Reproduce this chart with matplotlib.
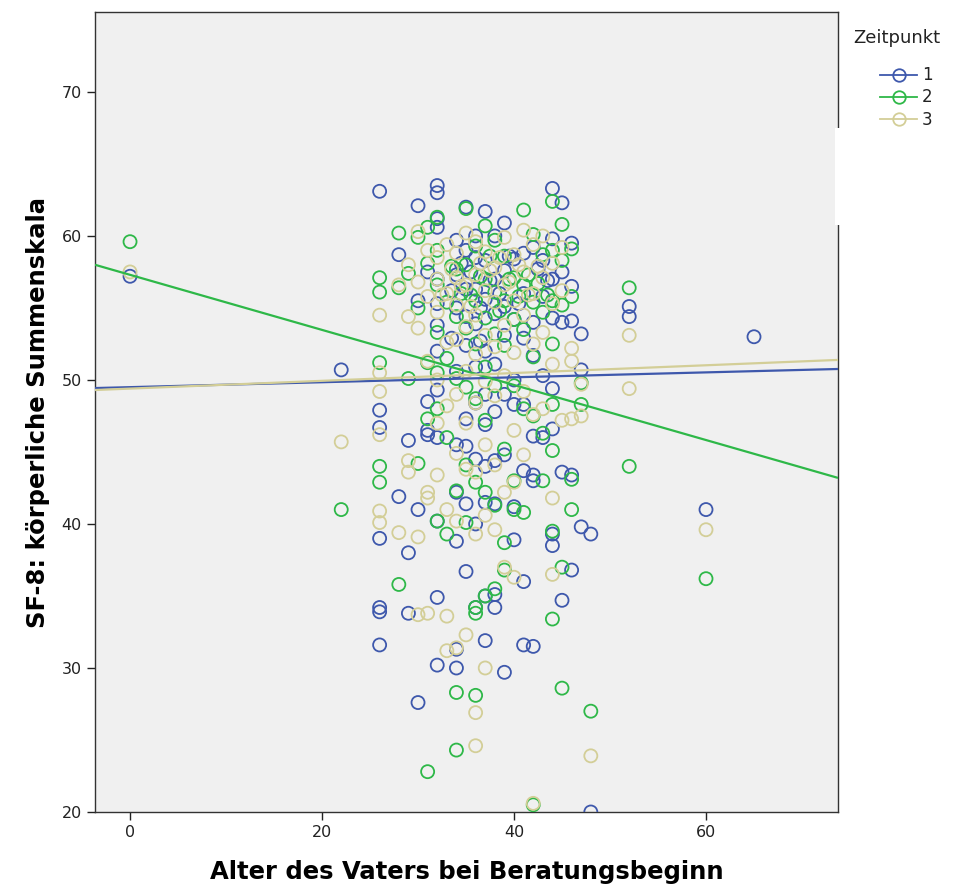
import matplotlib
matplotlib.use("Agg")
import matplotlib.pyplot as plt
from matplotlib.lines import Line2D
from matplotlib.patches import Rectangle
import numpy as np

# ---- data ----
groups = ["1", "2", "3"]
colors = ["#3E58AC", "#2EB848", "#D3CE97"]

age_1 = [0, 22, 26, 26, 26, 26, 26, 26, 26, 28, 28, 29, 29, 29, 30, 30, 30, 30,
         31, 31, 31, 31, 32, 32, 32, 32, 32, 32, 32, 32, 32, 32, 32, 32, 32,
         34, 34, 34, 34, 34, 34, 34, 34, 34, 35, 35, 35, 35, 35, 35, 35, 35, 35,
         36, 36, 36, 36, 36, 36, 36, 36, 36, 37, 37, 37, 37, 37, 37, 37, 37, 37, 37,
         38, 38, 38, 38, 38, 38, 38, 38, 38, 39, 39, 39, 39, 39, 39, 39,
         40, 40, 40, 40, 40, 40, 41, 41, 41, 41, 41, 41, 41,
         42, 42, 42, 42, 42, 42, 42, 43, 43, 43, 43,
         44, 44, 44, 44, 44, 44, 44, 44, 45, 45, 45, 45, 45,
         46, 46, 46, 46, 46, 47, 47, 47, 48, 48, 52, 52, 60, 65,
         33.5, 33.5, 34.5, 35.5, 36.5, 36.5, 37.5, 38.5, 39.5, 40.5, 42.5, 43.5]
sf8_1 = [57.2, 50.7, 63.1, 47.9, 46.7, 39.0, 34.2, 33.9, 31.6, 58.7, 41.9, 45.8, 38.0, 33.8,
         62.1, 55.5, 41.0, 27.6, 57.5, 48.5, 46.5, 46.2,
         63.5, 63.0, 61.2, 60.6, 57.0, 55.3, 53.8, 52.0, 49.3, 46.0, 40.2, 34.9, 30.2,
         59.7, 57.3, 55.0, 50.6, 45.5, 42.2, 38.8, 31.3, 30.0,
         62.0, 59.0, 56.3, 54.4, 52.4, 47.3, 45.4, 41.4, 36.7,
         60.0, 58.5, 56.3, 53.9, 50.9, 48.4, 44.5, 40.0, 34.2,
         61.7, 58.3, 55.6, 52.0, 49.0, 46.9, 44.0, 41.5, 35.0, 31.9,
         60.0, 57.0, 54.6, 51.1, 47.8, 44.4, 41.4, 35.1, 34.2,
         60.9, 57.6, 55.1, 53.1, 49.0, 44.8, 29.7,
         58.4, 54.2, 50.0, 48.3, 41.2, 38.9,
         58.8, 56.0, 52.9, 48.3, 43.7, 36.0, 31.6,
         59.2, 54.0, 51.7, 46.1, 43.4, 43.0, 31.5,
         58.3, 55.8, 50.3, 46.0,
         63.3, 59.8, 57.0, 54.3, 49.4, 46.6, 39.3, 38.5,
         62.3, 57.5, 54.0, 43.6, 34.7,
         59.5, 56.5, 54.1, 43.4, 36.8,
         53.2, 50.7, 39.8, 39.3, 20.0, 55.1, 54.4, 41.0, 53.0,
         56.2, 52.9, 58.1, 57.5, 55.0, 52.7, 56.9, 56.0, 58.6, 55.3, 57.7, 56.9]

age_2 = [0, 22, 26, 26, 26, 26, 26, 28, 28, 28, 29, 29, 30, 30, 30,
         31, 31, 31, 31, 31, 32, 32, 32, 32, 32, 32, 32, 33, 33, 33, 33,
         34, 34, 34, 34, 34, 34, 35, 35, 35, 35, 35, 35,
         36, 36, 36, 36, 36, 36, 36, 36, 37, 37, 37, 37, 37, 37, 37,
         38, 38, 38, 38, 38, 38, 39, 39, 39, 39, 39, 39,
         40, 40, 40, 40, 40, 41, 41, 41, 41, 41, 42, 42, 42, 42, 42,
         43, 43, 43, 43, 44, 44, 44, 44, 44, 44, 44, 44,
         45, 45, 45, 45, 45, 46, 46, 46, 46, 47, 47, 48, 52, 52, 60,
         33.5, 34.5, 35.5, 36.5, 37.5, 38.5, 39.5, 40.5, 41.5, 42.5, 43.5]
sf8_2 = [59.6, 41.0, 57.1, 56.1, 51.2, 44.0, 42.9, 60.2, 56.4, 35.8, 57.4, 50.1,
         59.9, 55.0, 44.2, 60.6, 58.1, 51.2, 47.3, 22.8,
         61.3, 59.0, 56.6, 53.3, 50.5, 48.0, 40.2, 55.4, 51.5, 46.0, 39.3,
         57.7, 54.4, 50.1, 42.3, 28.3, 24.3, 61.9, 58.0, 53.6, 49.5, 44.1, 40.1,
         59.3, 55.5, 52.5, 48.7, 42.9, 34.2, 33.8, 28.1,
         60.7, 57.0, 54.3, 50.9, 47.2, 42.2, 35.0,
         59.7, 56.1, 53.2, 49.6, 41.3, 35.5, 58.6, 55.5, 52.4, 45.2, 38.7, 36.8,
         57.1, 54.2, 49.6, 43.0, 41.0, 61.8, 56.6, 53.5, 48.0, 40.8,
         60.1, 55.4, 51.6, 47.5, 20.5, 58.7, 54.7, 46.3, 43.0,
         62.4, 59.0, 55.5, 52.5, 48.3, 45.1, 39.5, 33.4,
         60.8, 58.3, 55.2, 37.0, 28.6, 59.1, 55.8, 43.1, 41.0,
         49.8, 48.3, 27.0, 56.4, 44.0, 36.2,
         57.9, 56.0, 55.9, 57.2, 58.6, 54.8, 57.0, 55.8, 57.3, 56.7, 55.9]

age_3 = [0, 22, 26, 26, 26, 26, 26, 26, 28, 28, 29, 29, 29, 29,
         30, 30, 30, 30, 30, 31, 31, 31, 31, 31, 31, 32, 32, 32, 32, 32, 32,
         33, 33, 33, 33, 33, 33, 33, 34, 34, 34, 34, 34, 34, 34, 34,
         35, 35, 35, 35, 35, 35, 35, 36, 36, 36, 36, 36, 36, 36, 36, 36,
         37, 37, 37, 37, 37, 37, 37, 38, 38, 38, 38, 38, 38,
         39, 39, 39, 39, 39, 39, 40, 40, 40, 40, 40, 40,
         41, 41, 41, 41, 41, 42, 42, 42, 42, 42, 43, 43, 43, 43,
         44, 44, 44, 44, 44, 45, 45, 45, 46, 46, 46, 47, 47, 48, 52, 52, 60,
         32.5, 33.5, 34.5, 35.5, 36.5, 37.5, 38.5, 39.5, 40.5, 41.5, 42.5]
sf8_3 = [57.5, 45.7, 54.5, 50.5, 49.2, 46.2, 40.9, 40.1, 56.6, 39.4, 58.0, 54.4, 44.4, 43.6,
         60.3, 56.8, 53.6, 39.1, 33.7, 59.0, 55.8, 51.3, 42.2, 41.8, 33.8,
         58.5, 57.0, 54.7, 50.0, 47.0, 43.4,
         59.4, 56.0, 52.6, 48.2, 41.0, 33.6, 31.2,
         58.8, 57.1, 55.2, 52.8, 49.0, 44.9, 40.2, 31.4,
         60.2, 56.6, 53.7, 50.6, 47.0, 43.8, 32.3,
         59.6, 57.3, 54.5, 51.8, 48.4, 43.6, 39.3, 26.9, 24.6,
         58.9, 56.2, 53.1, 49.9, 45.5, 40.6, 30.0,
         57.8, 55.4, 52.3, 48.9, 44.1, 39.6,
         59.9, 56.6, 53.8, 50.3, 42.2, 37.0,
         58.7, 55.5, 51.9, 46.5, 42.9, 36.3,
         60.4, 57.5, 54.5, 49.2, 44.8, 59.4, 56.0, 52.5, 47.6, 20.6,
         60.0, 57.1, 53.3, 48.0,
         58.1, 55.3, 51.1, 41.8, 36.5, 59.2, 56.2, 47.2,
         52.2, 51.3, 47.3, 49.7, 47.5, 23.9, 53.1, 49.4, 39.6,
         55.9, 57.7, 56.5, 55.1, 58.1, 57.6, 58.5, 56.8, 58.0, 55.9, 57.9]

ages = [age_1, age_2, age_3]
sf8 = [sf8_1, sf8_2, sf8_3]

# fit lines (intercept at age 0, slope per year)
fit_intercept = [49.50, 57.30, 49.40]
fit_slope = [0.0171, -0.1912, 0.0270]

x_ticks = [0, 20, 40, 60]
y_ticks = [20, 30, 40, 50, 60, 70]

# ---- figure ----
W, H = 967, 890
fig = plt.figure(figsize=(W / 100, H / 100), dpi=100)
ax = fig.add_axes([95 / W, 78 / H, 743 / W, 800 / H])
ax.set_facecolor("#F0F0F0")

xlim = (-3.65, 73.75)
ylim = (20.0, 75.55)

for a, v, c in zip(ages, sf8, colors):
    ax.scatter(a, v, s=88, facecolors="none", edgecolors=c, linewidths=1.3, zorder=3)

xl = np.array(xlim)
for b0, b1, c in zip(fit_intercept, fit_slope, colors):
    ax.plot(xl, b0 + b1 * xl, color=c, lw=1.6, zorder=4, solid_capstyle="butt")

ax.set_xlim(*xlim)
ax.set_ylim(*ylim)
ax.set_xticks(x_ticks)
ax.set_yticks(y_ticks)
ax.tick_params(axis="both", labelsize=11.5, length=6, width=1, direction="out", colors="#222222")
for sp in ax.spines.values():
    sp.set_color("#333333")
    sp.set_linewidth(1.0)

ax.set_xlabel("Alter des Vaters bei Beratungsbeginn", fontsize=17.5, fontweight="bold", labelpad=14)
ax.set_ylabel("SF-8: körperliche Summenskala", fontsize=17.5, fontweight="bold", labelpad=8)

# legend (title placed separately, entries indented as in the original)
fig.text(853 / W, 1 - 38 / H, "Zeitpunkt", fontsize=13, va="center", ha="left", color="#222222")
handles = [Line2D([0], [0], color=c, lw=1.3, marker="o", markersize=9,
                  markerfacecolor="none", markeredgecolor=c, markeredgewidth=1.3)
           for c in colors]
leg = fig.legend(handles, groups, loc="upper left",
                 bbox_to_anchor=(872 / W, 1 - 58 / H), frameon=False, fontsize=12,
                 handlelength=2.2, handletextpad=0.3, labelspacing=0.25, borderpad=0.0)
for t in leg.get_texts():
    t.set_color("#222222")

# white legend box overlapping the right frame edge, as in the original
fig.patches.append(Rectangle((835 / W, 1 - 225 / H), 10 / W, 97 / H,
                             transform=fig.transFigure, facecolor="white",
                             edgecolor="none", zorder=10))

fig.savefig("out.png", dpi=100, facecolor="white")
